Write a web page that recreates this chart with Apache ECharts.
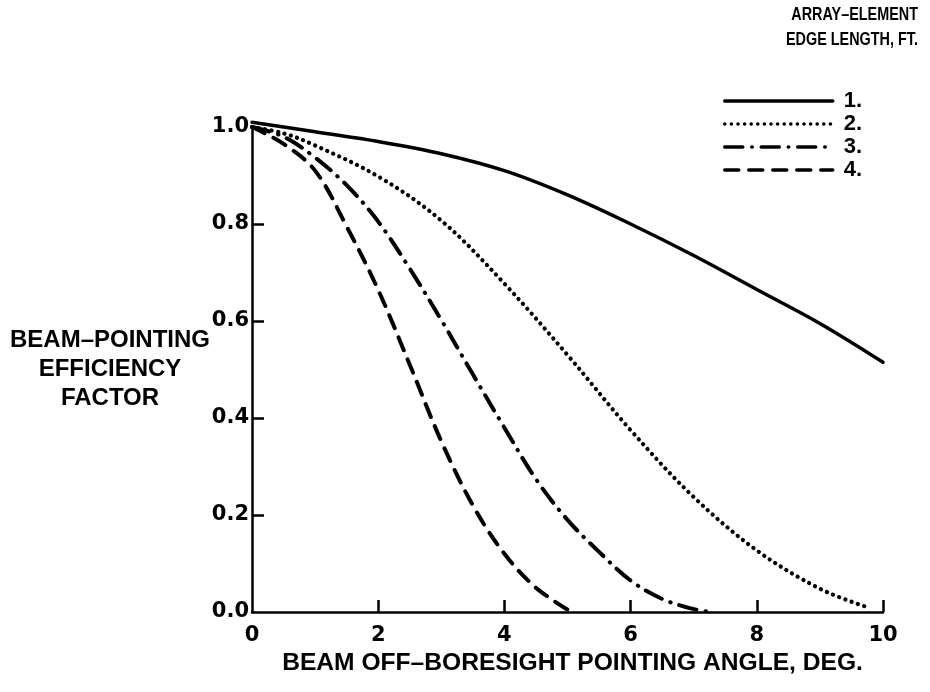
<!DOCTYPE html>
<html>
<head>
<meta charset="utf-8">
<script src="https://cdn.jsdelivr.net/npm/echarts@6/dist/echarts.min.js"></script>
<style>
html,body{margin:0;padding:0;background:#fff;}
#chart{width:930px;height:692px;}
</style>
</head>
<body>
<div id="chart"></div>
<script>
// ---- data ----
const seriesNames = ['1.', '2.', '3.', '4.'];
const xTicks = [0, 2, 4, 6, 8, 10];
const yTicks = [0.0, 0.2, 0.4, 0.6, 0.8, 1.0];

const angle1 = [0, 1, 2, 3, 4, 5, 6, 7, 8, 9, 10];
const eff1   = [1.01, 0.99, 0.97, 0.945, 0.91, 0.86, 0.80, 0.735, 0.665, 0.595, 0.515];

const angle2 = [0, 0.5, 1, 2, 3, 4, 5, 6, 7, 8, 9, 9.75];
const eff2   = [1.0, 0.987, 0.962, 0.898, 0.807, 0.677, 0.53, 0.375, 0.237, 0.127, 0.048, 0.01];

const angle3 = [0, 0.5, 1, 1.5, 2, 2.5, 3, 3.5, 4, 4.5, 5, 5.5, 6, 6.5, 7, 7.3];
const eff3   = [1.0, 0.98, 0.937, 0.88, 0.805, 0.708, 0.602, 0.49, 0.38, 0.274, 0.19, 0.124, 0.065, 0.027, 0.006, 0.0];

const angle4 = [0, 0.5, 1, 1.5, 2, 2.5, 3, 3.5, 4, 4.5, 5];
const eff4   = [1.0, 0.965, 0.91, 0.795, 0.664, 0.51, 0.352, 0.22, 0.12, 0.05, 0.005];

const xTitle = 'BEAM OFF–BORESIGHT POINTING ANGLE, DEG.';
const yTitle = 'BEAM–POINTING\nEFFICIENCY\nFACTOR';
const legendTitle1 = 'ARRAY–ELEMENT';
const legendTitle2 = 'EDGE LENGTH, FT.';

// ---- chart ----
const FONT = '"Liberation Sans", Arial, Helvetica, sans-serif';
const TICKFONT = '"DejaVu Sans", "Liberation Sans", sans-serif';
const zip = (xs, ys) => xs.map((x, i) => [x, ys[i]]);

const chart = echarts.init(document.getElementById('chart'), null, {renderer: 'canvas'});

const axisLine = {show: true, lineStyle: {color: '#000', width: 2.5}};
const tickStyle = {color: '#000', width: 2.5};

const styles = [
  {type: 'solid', width: 3.5, cap: 'round'},
  {type: [0.1, 6.5], width: 4.2, cap: 'round'},
  {type: [18, 9, 0.5, 9], width: 4, cap: 'round'},
  {type: [14, 10], width: 4, cap: 'round'}
];
const datasets = [zip(angle1, eff1), zip(angle2, eff2), zip(angle3, eff3), zip(angle4, eff4)];

chart.setOption({
  animation: false,
  backgroundColor: '#fff',
  textStyle: {fontFamily: FONT},
  grid: {left: 252, right: 47, top: 127, bottom: 80, containLabel: false},
  legend: {
    orient: 'vertical',
    left: 718,
    top: 85,
    itemWidth: 108,
    itemHeight: 20,
    itemGap: 1,
    selectedMode: false,
    data: seriesNames,
    itemStyle: {opacity: 0},
    lineStyle: {width: 3.5, type: 'inherit', cap: 'inherit'},
    textStyle: {fontFamily: FONT, fontWeight: 'bold', fontSize: 22, color: '#000', padding: [0, 0, 0, 6]}
  },
  graphic: [
    {type: 'text', x: 918, y: 15, scaleX: 0.8, style: {text: legendTitle1, font: 'bold 18px ' + FONT, fill: '#000', align: 'right', verticalAlign: 'middle'}},
    {type: 'text', x: 918, y: 40, scaleX: 0.8, style: {text: legendTitle2, font: 'bold 18px ' + FONT, fill: '#000', align: 'right', verticalAlign: 'middle'}}
  ],
  xAxis: {
    type: 'value', min: 0, max: 10, interval: 2,
    axisLine,
    axisTick: {show: true, inside: true, length: 12, lineStyle: tickStyle, customValues: xTicks.filter(v => v > 0)},
    splitLine: {show: false},
    axisLabel: {color: '#000', fontSize: 21, fontWeight: 'bold', fontFamily: TICKFONT, margin: 13,
      formatter: v => xTicks.includes(v) ? String(v) : ''},
    name: xTitle, nameLocation: 'middle', nameGap: 39,
    nameTextStyle: {color: '#000', fontSize: 24.6, fontWeight: 'bold', fontFamily: FONT, padding: [0, 0, 0, 10]}
  },
  yAxis: {
    type: 'value', min: 0, max: 1, interval: 0.2,
    axisLine,
    axisTick: {show: true, inside: true, length: 12, lineStyle: tickStyle, customValues: yTicks.filter(v => v > 0 && v < 1)},
    splitLine: {show: false},
    axisLabel: {color: '#000', fontSize: 21, fontWeight: 'bold', fontFamily: TICKFONT, margin: 3,
      formatter: v => yTicks.some(t => Math.abs(t - v) < 1e-9) ? v.toFixed(1) : ''},
    name: yTitle, nameLocation: 'middle', nameRotate: 0, nameGap: 142, nameMoveOverlap: false,
    nameTextStyle: {color: '#000', fontSize: 24, fontWeight: 'bold', fontFamily: FONT, align: 'center', verticalAlign: 'middle', lineHeight: 29, padding: [6, 0, 0, 0]}
  },
  series: seriesNames.map((n, i) => ({
    name: n,
    type: 'line',
    data: datasets[i],
    smooth: 0.35,
    symbol: 'none',
    showSymbol: false,
    clip: false,
    color: '#000',
    lineStyle: Object.assign({color: '#000'}, styles[i])
  }))
});
</script>
</body>
</html>
